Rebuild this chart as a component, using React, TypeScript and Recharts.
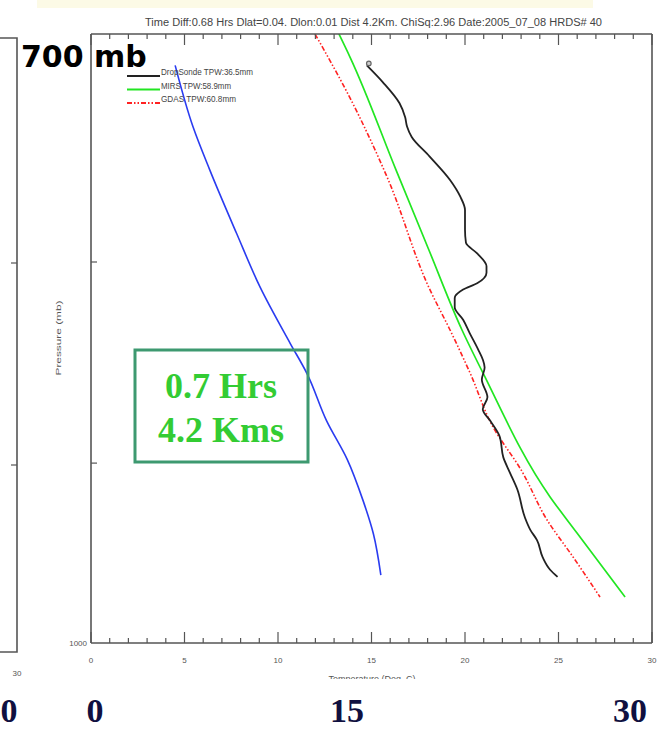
import React from 'react';
import { LineChart, Line, XAxis, YAxis } from 'recharts';

// ---- axis ticks ----
const tempTicks = [0, 1, 2, 3, 4, 5, 6, 7, 8, 9, 10, 11, 12, 13, 14, 15, 16, 17, 18, 19, 20, 21, 22, 23, 24, 25, 26, 27, 28, 29, 30];
const pressureTicks = [800, 900, 1000];

// ---- series (pressure mb, temperature deg C) ----
const dropPressure = [713, 720, 729, 735, 739, 743.5, 752, 762.5, 770, 776, 785, 791, 796, 802, 805, 810, 813, 817, 821.5, 827.5, 834, 842, 847, 851, 857, 866, 872, 878, 886, 897, 905, 914, 929, 936, 941.5, 951, 958, 962];
const dropTemp = [14.75, 15.6, 16.5, 16.8, 16.9, 17.15, 18.1, 19.2, 19.75, 20.0, 20.0, 20.05, 20.65, 21.15, 21.15, 20.65, 19.9, 19.45, 19.45, 19.9, 20.25, 20.7, 20.95, 21.05, 20.9, 21.2, 20.95, 21.35, 21.85, 22.05, 22.4, 22.8, 23.2, 23.5, 23.85, 24.15, 24.55, 24.95];

const mirsPressure = [700, 709.5, 758, 794.4, 832.5, 853.7, 918, 937.6, 973.4];
const mirsTemp = [13.26, 13.85, 16.31, 18.07, 19.84, 20.96, 24.55, 25.99, 28.56];

const gdasPressure = [700, 726.7, 761.1, 813.2, 832.5, 853.7, 881.2, 903.6, 930.5, 950.9, 973.4];
const gdasTemp = [11.98, 13.85, 15.83, 18.13, 19.2, 20.27, 21.5, 23.0, 24.39, 25.78, 27.22];

const dewPressure = [713, 739, 758, 787, 812, 839, 854, 878, 898, 920, 938, 961];
const dewTemp = [4.5, 5.45, 6.35, 7.8, 9.05, 10.65, 11.55, 12.6, 13.7, 14.55, 15.1, 15.5];

// ---- labels ----
const titleText = 'Time Diff:0.68 Hrs   Dlat=0.04.  Dlon:0.01 Dist  4.2Km.   ChiSq:2.96  Date:2005_07_08  HRDS# 40';
const legendItems = [
  { label: 'DropSonde TPW:36.5mm', color: '#222222', dash: undefined as string | undefined, len: 92 },
  { label: 'MIRS TPW:58.9mm', color: '#22e622', dash: undefined as string | undefined, len: 70 },
  { label: 'GDAS TPW:60.8mm', color: '#ff2222', dash: '5 2 1.5 2 1.5 2', len: 75 },
];
const bigLabels = ['0', '0', '15', '30'];

const rows = (ps: number[], ts: number[]) => ps.map((p, i) => ({ p, T: ts[i] }));
const dropRows = rows(dropPressure, dropTemp);
const mirsRows = rows(mirsPressure, mirsTemp);
const gdasRows = rows(gdasPressure, gdasTemp);
const dewRows = rows(dewPressure, dewTemp);

const AX = '#555';
const small = 'Liberation Sans, Arial, sans-serif';

const BottomTick = (props: any) => {
  const { x, y, payload } = props;
  const v = payload.value;
  const major = v % 5 === 0;
  return (
    <g>
      <line x1={x} x2={x} y1={y} y2={y - (major ? 11 : 5)} stroke={AX} strokeWidth={1.2} />
      {major && (
        <text x={x} y={y + 20} textAnchor="middle" fontSize={8} fill="#555" fontFamily={small}>
          {v}
        </text>
      )}
    </g>
  );
};

const TopTick = (props: any) => {
  const { x, y, payload } = props;
  const major = payload.value % 5 === 0;
  return <line x1={x} x2={x} y1={y} y2={y + (major ? 11 : 5)} stroke={AX} strokeWidth={1.2} />;
};

const LeftTick = (props: any) => {
  const { x, y, payload } = props;
  if (payload.value === 1000) {
    return (
      <text x={x - 4} y={y + 3} textAnchor="end" fontSize={8} fill="#555" fontFamily={small}>
        1000
      </text>
    );
  }
  return <line x1={x} x2={x + 6} y1={y} y2={y} stroke={AX} strokeWidth={1.2} />;
};

const RightTick = (props: any) => {
  const { x, y, payload } = props;
  if (payload.value === 1000) return <g />;
  return <line x1={x} x2={x - 6} y1={y} y2={y} stroke={AX} strokeWidth={1.2} />;
};

const startDot = (props: any) => {
  if (props.index === 0) {
    return <circle key="start" cx={props.cx + 2} cy={props.cy - 2} r={2.3} fill="#ccc" stroke="#666" strokeWidth={1.2} />;
  }
  return <g key={`d${props.index}`} />;
};

export default function App() {
  const axisLine = { stroke: AX, strokeWidth: 1.6 };
  return (
    <div style={{ position: 'absolute', left: 0, top: 0, width: 662, height: 731, background: '#fff' }}>
      <div style={{ position: 'absolute', left: 0, top: 0 }}>
        <LineChart width={662} height={731} layout="vertical" margin={{ top: 33, right: 9, bottom: 87, left: 90 }}>
          <XAxis
            xAxisId="b"
            type="number"
            orientation="bottom"
            domain={[0, 30]}
            ticks={tempTicks}
            interval={0}
            height={1}
            tickSize={0}
            tickMargin={0}
            tickLine={false}
            tick={(p: any) => <BottomTick {...p} />}
            axisLine={axisLine}
            allowDataOverflow
          />
          <XAxis
            xAxisId="t"
            type="number"
            orientation="top"
            domain={[0, 30]}
            ticks={tempTicks}
            interval={0}
            height={1}
            tickSize={0}
            tickMargin={0}
            tickLine={false}
            tick={(p: any) => <TopTick {...p} />}
            axisLine={axisLine}
            allowDataOverflow
          />
          <YAxis
            yAxisId="l"
            type="number"
            dataKey="p"
            scale="log"
            orientation="left"
            domain={[700, 1000]}
            ticks={pressureTicks}
            interval={0}
            width={1}
            tickSize={0}
            tickMargin={0}
            tickLine={false}
            tick={(p: any) => <LeftTick {...p} />}
            axisLine={axisLine}
            allowDataOverflow
          />
          <YAxis
            yAxisId="r"
            type="number"
            scale="log"
            orientation="right"
            domain={[700, 1000]}
            ticks={pressureTicks}
            interval={0}
            width={1}
            tickSize={0}
            tickMargin={0}
            tickLine={false}
            tick={(p: any) => <RightTick {...p} />}
            axisLine={axisLine}
            allowDataOverflow
          />
          <Line xAxisId="b" yAxisId="l" data={dewRows} dataKey="T" type="monotone" stroke="#2a3cf0" strokeWidth={1.6} dot={false} isAnimationActive={false} />
          <Line xAxisId="b" yAxisId="l" data={gdasRows} dataKey="T" type="monotone" stroke="#ff2222" strokeWidth={1.6} strokeDasharray="5 2 1.5 2 1.5 2" dot={false} isAnimationActive={false} />
          <Line xAxisId="b" yAxisId="l" data={mirsRows} dataKey="T" type="monotone" stroke="#22e622" strokeWidth={1.7} dot={false} isAnimationActive={false} />
          <Line xAxisId="b" yAxisId="l" data={dropRows} dataKey="T" type="monotone" stroke="#222222" strokeWidth={1.8} dot={startDot} isAnimationActive={false} />
        </LineChart>
      </div>
      <svg width={662} height={731} style={{ position: 'absolute', left: 0, top: 0, pointerEvents: 'none' }}>
        {/* pale strip at top */}
        <rect x={37} y={0} width={556} height={8} fill="#fcfae6" />
        {/* title */}
        <text x={145} y={26} fontSize={10} fill="#444" fontFamily={small} textLength={457} lengthAdjust="spacingAndGlyphs">
          {titleText}
        </text>
        {/* neighbouring panel at left edge */}
        <polyline points="0,38 17,38 17,652 0,652" fill="none" stroke={AX} strokeWidth={1.6} />
        <line x1={17} x2={11} y1={263} y2={263} stroke={AX} strokeWidth={1.2} />
        <line x1={17} x2={11} y1={465} y2={465} stroke={AX} strokeWidth={1.2} />
        <text x={17} y={676} textAnchor="middle" fontSize={8} fill="#555" fontFamily={small}>30</text>
        {/* 700 mb */}
        <text x={21} y={67} fontSize={30} fontWeight="bold" fill="#000" fontFamily="DejaVu Sans, Verdana, sans-serif">700 mb</text>
        {/* legend */}
        {legendItems.map((it, i) => (
          <g key={it.label}>
            <line x1={127} x2={160} y1={76 + i * 13.5} y2={76 + i * 13.5} stroke={it.color} strokeWidth={2} strokeDasharray={it.dash} />
            <text x={161} y={75 + i * 13.5} fontSize={9} fill="#444" fontFamily={small} textLength={it.len} lengthAdjust="spacingAndGlyphs">
              {it.label}
            </text>
          </g>
        ))}
        {/* axis titles */}
        <text x={0} y={0} transform="translate(61,338) rotate(-90)" textAnchor="middle" fontSize={8} fill="#555" fontFamily={small} textLength={75} lengthAdjust="spacingAndGlyphs">
          Pressure (mb)
        </text>
        <text x={372} y={682} textAnchor="middle" fontSize={9} fill="#555" fontFamily={small}>Temperature (Deg. C)</text>
        <rect x={300} y={679} width={150} height={14} fill="#fff" />
        {/* annotation box */}
        <rect x={135} y={350} width={173} height={112} fill="none" stroke="#3d9970" strokeWidth={3} />
        <text x={221} y={398} textAnchor="middle" fontSize={36} fontWeight="bold" fill="#33cc33" fontFamily="Liberation Serif, Times New Roman, serif">0.7 Hrs</text>
        <text x={221} y={442} textAnchor="middle" fontSize={36} fontWeight="bold" fill="#33cc33" fontFamily="Liberation Serif, Times New Roman, serif">4.2 Kms</text>
        {/* big bottom labels */}
        {bigLabels.map((t, i) => (
          <text key={i} x={[9, 95, 347, 630][i]} y={722} textAnchor="middle" fontSize={34} fontWeight="bold" fill="#101040" fontFamily="Liberation Serif, Times New Roman, serif">
            {t}
          </text>
        ))}
      </svg>
    </div>
  );
}
